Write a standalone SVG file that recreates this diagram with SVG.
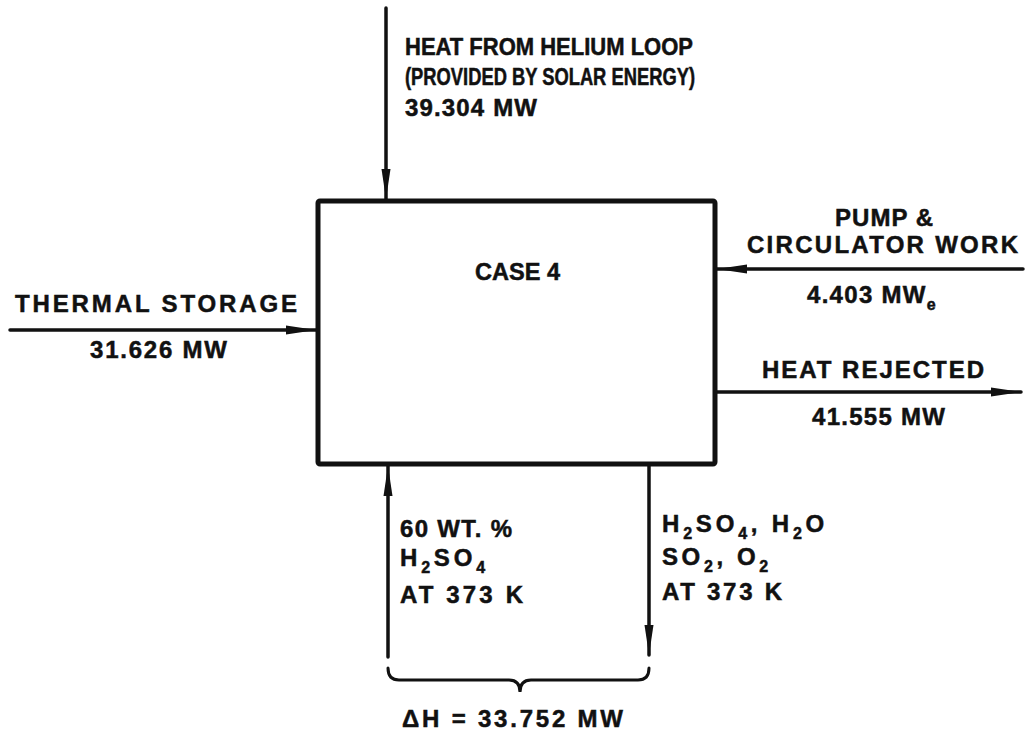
<svg xmlns="http://www.w3.org/2000/svg" width="1026" height="734" viewBox="0 0 1026 734">
<style>
  .t { font-family: "Liberation Sans", Arial, sans-serif; font-weight: bold; font-size: 24px; fill: #111; stroke: #111; stroke-width: 0.5; }
  .top { font-size: 23px; }
  .sub { font-size: 16px; }
  .ln { stroke: #111; stroke-width: 3.5; fill: none; stroke-linecap: round; }
  .box { stroke: #111; stroke-width: 5; fill: #fff; }
</style>
<defs>
  <marker id="ah" viewBox="0 0 30 10" refX="30" refY="5" markerWidth="30" markerHeight="10" markerUnits="userSpaceOnUse" orient="auto">
    <path d="M0,0.5 L30,5 L0,9.5 Z" fill="#111"/>
  </marker>
</defs>
<rect width="1026" height="734" fill="#fff"/>

<g id="connectors">
  <line class="ln" x1="386" y1="8" x2="386" y2="199" marker-end="url(#ah)"/>
  <line class="ln" x1="10" y1="330" x2="316" y2="330" marker-end="url(#ah)"/>
  <line class="ln" x1="1023" y1="269" x2="717" y2="269" marker-end="url(#ah)"/>
  <line class="ln" x1="717" y1="392" x2="1021" y2="392" marker-end="url(#ah)"/>
  <line class="ln" x1="388" y1="657" x2="388" y2="466" marker-end="url(#ah)"/>
  <line class="ln" x1="649" y1="466" x2="649" y2="655" marker-end="url(#ah)"/>
  <path class="ln" style="stroke-width:3" d="M388,668 Q388,680 399,680 L509,680 Q520,680 520,692 Q520,680 531,680 L638,680 Q649,680 649,668"/>
</g>

<g id="case4">
  <rect class="box" x="318" y="201" width="397" height="263" rx="2"/>
  <text class="t" x="475" y="280" textLength="85" lengthAdjust="spacingAndGlyphs">CASE 4</text>
</g>

<g id="helium-heat">
  <text class="t top" x="405" y="55" textLength="288" lengthAdjust="spacingAndGlyphs">HEAT FROM HELIUM LOOP</text>
  <text class="t top" x="405" y="85" textLength="290" lengthAdjust="spacingAndGlyphs">(PROVIDED BY SOLAR ENERGY)</text>
  <text class="t" x="405" y="116" textLength="132" lengthAdjust="spacing">39.304 MW</text>
</g>

<g id="thermal-storage">
  <text class="t" x="15" y="312" textLength="282" lengthAdjust="spacing">THERMAL STORAGE</text>
  <text class="t" x="90" y="358" textLength="137" lengthAdjust="spacing">31.626 MW</text>
</g>

<g id="pump-work">
  <text class="t" x="835" y="226" textLength="98" lengthAdjust="spacing">PUMP &amp;</text>
  <text class="t" x="747" y="253" textLength="271" lengthAdjust="spacing">CIRCULATOR WORK</text>
  <text class="t" x="807" y="303" letter-spacing="1.3">4.403 MW<tspan class="sub" dy="7">e</tspan></text>
</g>

<g id="heat-rejected">
  <text class="t" x="762" y="378" textLength="222" lengthAdjust="spacing">HEAT REJECTED</text>
  <text class="t" x="812" y="425" textLength="133" lengthAdjust="spacing">41.555 MW</text>
</g>

<g id="acid-in">
  <text class="t" x="400" y="537" textLength="112" lengthAdjust="spacing">60 WT. %</text>
  <text class="t" x="400" y="566" letter-spacing="3.8">H<tspan class="sub" dy="7">2</tspan><tspan dy="-7">SO</tspan><tspan class="sub" dy="7">4</tspan></text>
  <text class="t" x="400" y="603" textLength="123" lengthAdjust="spacing">AT 373 K</text>
</g>

<g id="products-out">
  <text class="t" x="662" y="532" letter-spacing="3.8">H<tspan class="sub" dy="7">2</tspan><tspan dy="-7">SO</tspan><tspan class="sub" dy="7">4</tspan><tspan dy="-7">, H</tspan><tspan class="sub" dy="7">2</tspan><tspan dy="-7">O</tspan></text>
  <text class="t" x="662" y="565" letter-spacing="3.6">SO<tspan class="sub" dy="7">2</tspan><tspan dy="-7">, O</tspan><tspan class="sub" dy="7">2</tspan></text>
  <text class="t" x="662" y="600" textLength="120" lengthAdjust="spacing">AT 373 K</text>
</g>

<g id="delta-h">
  <text class="t" x="402" y="727" textLength="221" lengthAdjust="spacing">ΔH = 33.752 MW</text>
</g>
</svg>
